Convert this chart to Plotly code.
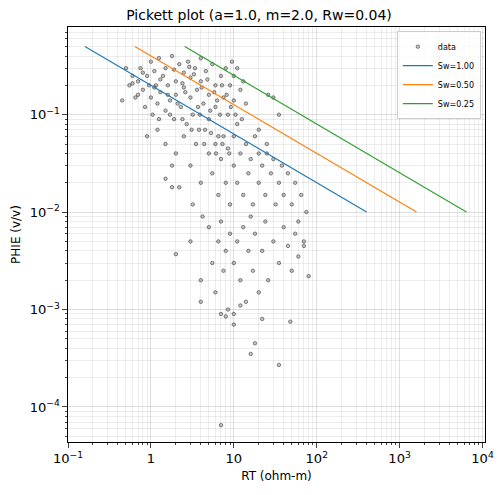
import plotly.graph_objects as go
import numpy as np

rt = [0.5,0.55,0.6,0.65,0.7,0.75,0.8,0.85,0.9,0.95,1.0,1.0,1.05,1.1,1.15,1.2,1.25,1.3,1.4,1.5,1.5,1.6,1.7,1.8,1.9,2.0,2.0,2.2,2.3,2.5,2.5,2.7,2.8,3.0,3.0,3.2,3.4,3.6,3.8,4.0,4.0,4.3,4.6,5.0,5.0,5.5,6.0,6.0,6.5,7.0,7.5,8.0,8.5,9.0,10,10,11,12,13,9.5,11,
      1.5,2,2.5,3,3.5,4,4.5,5,5.5,6,6.5,7,7.5,8,8.5,9,10,10,11,12,13,14,15,16,17,18,20,20,22,24,25,28,30,32,35,38,40,45,50,55,60,65,70,75,1.2,1.8,0.9,2.2,3.2,4.2,
      3,4,5,5.5,6,6.5,7,7.5,8,8.5,9,10,10,11,12,13,14,15,16,17,18,20,22,24,26,30,35,40,45,50,55,60,70,80,18,16,35,48,4,2,7,8,10,12,22,
      7,1.8,1.5,26,30,35,20,25,
      0.45,0.6,0.8,1.1,1.3,1.6,1.9,2.1,2.4,2.6,2.9,3.3,3.7,4.1,4.8,5.2,5.8,6.3,6.8,7.2,8.2,9.2,10.5,12.5,14,2.4,3.1,3.9,4.4,5.3,6.1,7.3,8.8,1.7,1.25,0.7]
phie = [0.3,0.2,0.25,0.15,0.22,0.3,0.18,0.12,0.25,0.2,0.35,0.15,0.1,0.28,0.2,0.13,0.38,0.17,0.25,0.11,0.3,0.2,0.14,0.4,0.09,0.22,0.16,0.33,0.12,0.27,0.19,0.08,0.35,0.15,0.24,0.1,0.3,0.18,0.07,0.38,0.22,0.13,0.28,0.16,0.09,0.33,0.2,0.12,0.06,0.25,0.15,0.3,0.1,0.2,0.25,0.14,0.3,0.18,0.22,0.35,0.08,
        0.05,0.04,0.06,0.03,0.05,0.02,0.07,0.04,0.025,0.05,0.015,0.035,0.06,0.02,0.045,0.012,0.03,0.06,0.02,0.04,0.015,0.05,0.025,0.035,0.012,0.06,0.02,0.04,0.03,0.015,0.05,0.025,0.035,0.012,0.02,0.03,0.015,0.025,0.012,0.02,0.008,0.015,0.005,0.01,0.07,0.03,0.06,0.018,0.012,0.009,
        0.005,0.002,0.007,0.003,0.0015,0.005,0.008,0.0025,0.004,0.001,0.006,0.003,0.0009,0.005,0.002,0.007,0.0012,0.004,0.009,0.0025,0.006,0.0015,0.004,0.008,0.002,0.005,0.003,0.007,0.0045,0.0025,0.006,0.0035,0.0045,0.0022,0.00045,0.00035,0.00027,0.00075,0.0012,0.0037,0.0009,0.00085,0.0007,0.0011,0.0008,
        0.000065,0.018,0.022,0.16,0.15,0.1,0.07,0.04,
        0.14,0.21,0.27,0.19,0.23,0.16,0.29,0.13,0.21,0.17,0.31,0.26,0.12,0.19,0.23,0.11,0.17,0.14,0.1,0.2,0.16,0.12,0.1,0.09,0.13,0.09,0.07,0.1,0.05,0.065,0.04,0.05,0.04,0.1,0.09,0.16]

a, m, rw, n = 1.0, 2.0, 0.04, 2.0
sw_values = [1.00, 0.50, 0.25]
sw_colors = ["#1f77b4", "#ff7f0e", "#2ca02c"]
phi_line = np.array([0.5, 0.01])

fig = go.Figure()
fig.add_trace(go.Scatter(x=rt, y=phie, mode="markers", name="data",
    marker=dict(size=3.5, color="rgba(128,128,128,0.45)", line=dict(color="rgba(0,0,0,0.55)", width=0.8))))
for sw, c in zip(sw_values, sw_colors):
    x = a * rw / (phi_line ** m * sw ** n)
    fig.add_trace(go.Scatter(x=x, y=phi_line, mode="lines", name=f"Sw={sw:.2f}", line=dict(color=c, width=1.1)))

ax = dict(type="log", showline=True, linecolor="black", mirror=True, ticks="outside", automargin=False,
          gridcolor="rgba(0,0,0,0.12)", exponentformat="power", dtick=1, zeroline=False,
          minor=dict(showgrid=True, gridcolor="rgba(0,0,0,0.07)", ticks="outside", ticklen=2, dtick="D1"),
          tickfont=dict(size=10.5, color="black"))
fig.update_layout(width=502, height=495, plot_bgcolor="white", paper_bgcolor="white",
    font=dict(family="DejaVu Sans", color="black"),
    margin=dict(l=60, r=25, t=19, b=61),
    title=dict(text="Pickett plot (a=1.0, m=2.0, Rw=0.04)", x=0.5, xanchor="center", y=0.995, yanchor="top", font=dict(size=14)),
    xaxis=dict(ax, range=[-1.0, 4.03], title=dict(text="RT (ohm-m)", font=dict(size=12), standoff=6)),
    yaxis=dict(ax, range=[-4.36, -0.1], title=dict(text="PHIE (v/v)", font=dict(size=12), standoff=6)),
    legend=dict(x=0.99, y=0.99, xanchor="right", yanchor="top", font=dict(size=8),
                bordercolor="#ccc", borderwidth=1, bgcolor="rgba(255,255,255,0.8)"),
    showlegend=True)
fig.write_html("out.html")
